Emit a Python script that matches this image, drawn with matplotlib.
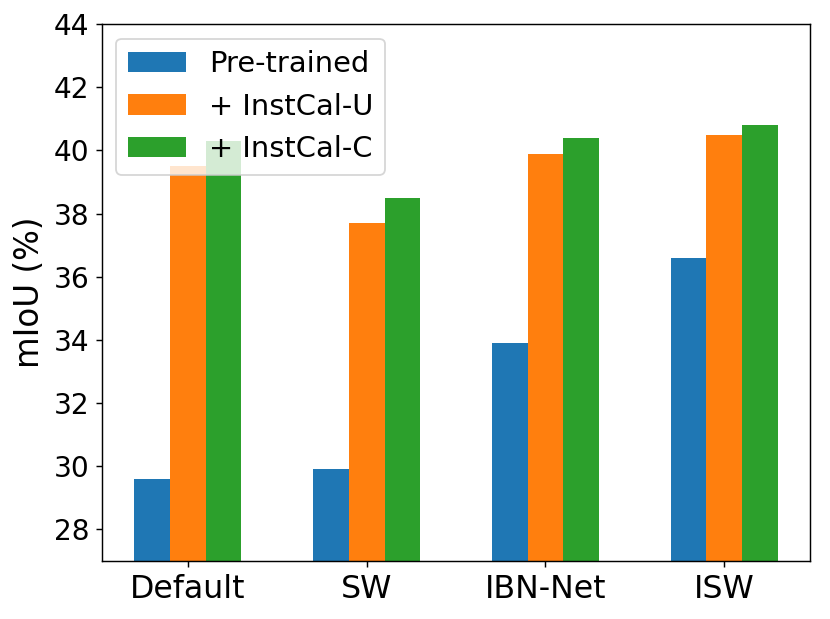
import matplotlib
matplotlib.use("Agg")
import matplotlib.pyplot as plt
import numpy as np

categories = ["Default", "SW", "IBN-Net", "ISW"]
series_names = ["Pre-trained", "+ InstCal-U", "+ InstCal-C"]
pretrained = [29.6, 29.9, 33.9, 36.6]
instcal_u = [39.5, 37.7, 39.9, 40.5]
instcal_c = [40.3, 38.5, 40.4, 40.8]
yticks = [28, 30, 32, 34, 36, 38, 40, 42, 44]

fig = plt.figure(figsize=(830 / 130, 619 / 130), dpi=130)
ax = fig.add_axes([0.1229, 0.0937, 0.976 - 0.1229, 0.961 - 0.0937])

x = np.arange(len(categories))
w = 0.2
for i, (name, vals) in enumerate(zip(series_names, [pretrained, instcal_u, instcal_c])):
    ax.bar(x + (i - 1) * w, vals, w, label=name, color=f"C{i}")

ax.set_ylim(27, 44)
ax.set_yticks(yticks)
ax.set_xticks(x)
ax.set_xticklabels(categories, fontsize=17.5)
ax.tick_params(axis="y", labelsize=15.5)
ax.set_ylabel("mIoU (%)", fontsize=18)
ax.legend(loc="upper left", fontsize=16)

fig.savefig("out.png", dpi=130)
